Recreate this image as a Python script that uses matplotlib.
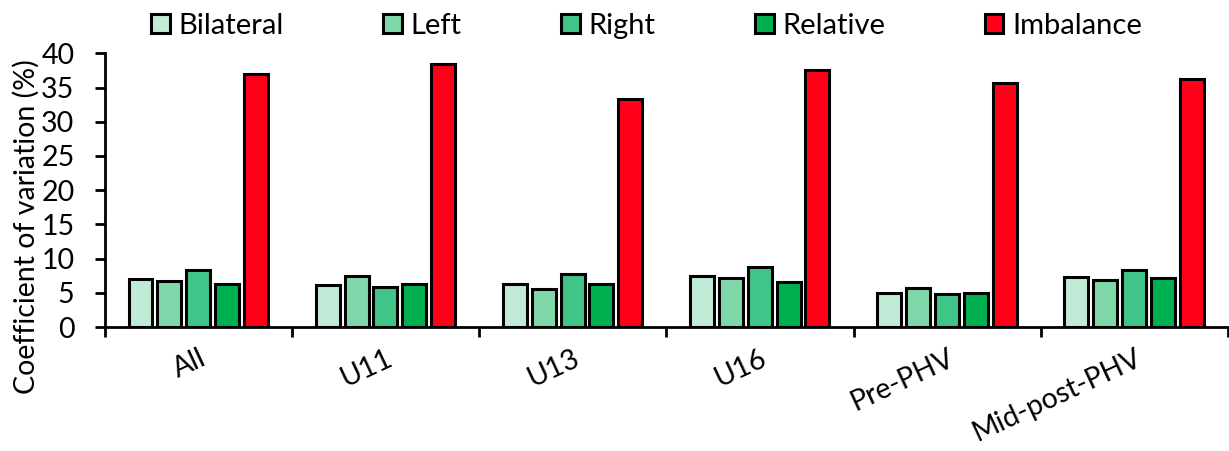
import matplotlib
matplotlib.use('Agg')
import matplotlib.pyplot as plt
import numpy as np

plt.rcParams['font.family'] = ['Lato', 'DejaVu Sans']

# Data
groups = ['All', 'U11', 'U13', 'U16', 'Pre-PHV', 'Mid-post-PHV']
series = ['Bilateral', 'Left', 'Right', 'Relative', 'Imbalance']
bilateral = [7.0, 6.1, 6.3, 7.5, 4.9, 7.3]
left = [6.7, 7.5, 5.6, 7.1, 5.7, 6.9]
right = [8.3, 5.9, 7.8, 8.7, 4.8, 8.4]
relative = [6.3, 6.3, 6.3, 6.6, 5.0, 7.1]
imbalance = [37.0, 38.5, 33.3, 37.5, 35.7, 36.3]
colors = ['#C0EBD6', '#80D8AA', '#40C488', '#00B050', '#FF0019']

fs = 20.5

fig = plt.figure(figsize=(12.29, 4.51), dpi=100)
ax = fig.add_axes([0.0854, 0.2749, 0.9138, 0.6069])

x = np.arange(len(groups))
step = 0.154
width = 0.128
all_vals = [bilateral, left, right, relative, imbalance]
for i, (name, vals) in enumerate(zip(series, all_vals)):
    pos = x + 0.19 + i * step
    ax.bar(pos, vals, width=width, color=colors[i], edgecolor='black',
           linewidth=2.2, label=name, zorder=3)

ax.set_xlim(0, len(groups))
ax.set_ylim(0, 40)
ax.set_yticks(np.arange(0, 41, 5))

# category boundaries as major ticks, names on minor ticks
ax.set_xticks(np.arange(len(groups) + 1))
ax.set_xticklabels([])
ax.set_xticks(x + 0.5, groups, minor=True)
ax.tick_params(axis='x', which='major', direction='out', length=7, width=2)
ax.tick_params(axis='x', which='minor', length=0, pad=13, labelsize=fs)
for lab in ax.get_xticklabels(minor=True):
    lab.set_rotation(25)
    lab.set_ha('right')
    lab.set_rotation_mode('anchor')

ax.tick_params(axis='y', direction='out', length=7, width=2, labelsize=fs, pad=15)
ax.set_ylabel('Coefficient of variation (%)', fontsize=fs)
ax.yaxis.set_label_coords(-0.058, 0.365)

for s in ['top', 'right']:
    ax.spines[s].set_visible(False)
for s in ['left', 'bottom']:
    ax.spines[s].set_linewidth(2)

fig.legend(loc='upper center', bbox_to_anchor=(0.526, 1.03), ncol=5, frameon=False,
           fontsize=21, handlelength=0.65, handleheight=0.65, handletextpad=0.3,
           columnspacing=3.4)

fig.savefig('out.png', dpi=100)
